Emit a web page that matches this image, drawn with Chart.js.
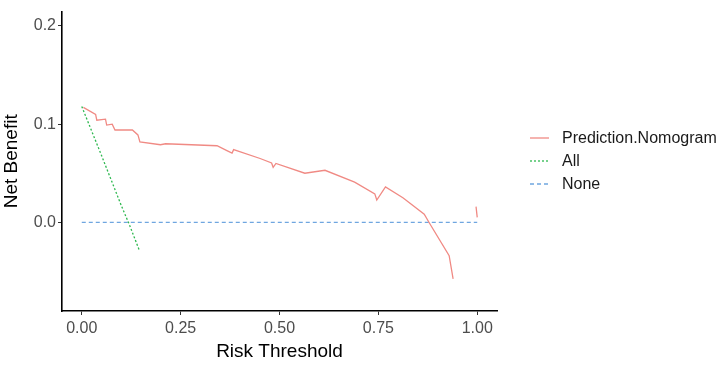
<!DOCTYPE html>
<html>
<head>
<meta charset="utf-8">
<script src="https://cdn.jsdelivr.net/npm/chart.js@4"></script>
<style>
    html, body { margin: 0; padding: 0; background: #fff; }
    #wrap { width: 720px; height: 365px; }
</style>
</head>
<body>
<div id="wrap"><canvas id="dcaChart" width="720" height="365"></canvas></div>
<script>
// Decision curve values
const nomoX = [0.004, 0.035, 0.038, 0.060, 0.063, 0.077, 0.084, 0.128, 0.142, 0.147, 0.199, 0.212, 0.342, 0.367, 0.380, 0.384, 0.451, 0.480, 0.484, 0.491, 0.564, 0.615, 0.690, 0.741, 0.746, 0.768, 0.812, 0.866, 0.879, 0.929, 0.939, 0.968, 0.997, 1.000];
const nomoY = [0.117, 0.110, 0.104, 0.105, 0.099, 0.100, 0.094, 0.094, 0.089, 0.082, 0.079, 0.080, 0.078, 0.073, 0.0705, 0.074, 0.065, 0.0605, 0.056, 0.060, 0.050, 0.053, 0.041, 0.029, 0.0227, 0.036, 0.025, 0.0083, -0.0007, -0.034, -0.0575, null, 0.016, 0.005];

const allX = [0.000, 0.050, 0.100, 0.120, 0.146];
const allY = [0.118, 0.068, 0.017, -0.002, -0.029];

const noneX = [0.000, 1.000];
const noneY = [0.000, 0.000];

const xTicks = [0, 0.25, 0.5, 0.75, 1];
const yTicks = [0, 0.1, 0.2];

const seriesNames = ['Prediction.Nomogram', 'All', 'None'];

function toPoints(xs, ys) {
    return xs.map((x, i) => ({ x: x, y: ys[i] }));
}

const FONT = "'Liberation Sans', Arial, sans-serif";

// simple ggplot-like legend drawn at the right side
const sideLegend = {
    id: 'sideLegend',
    afterDraw(chart) {
        const ctx = chart.ctx;
        const x0 = 530, x1 = 549, tx = 562;
        const rows = [138, 161, 184];
        ctx.save();
        chart.data.datasets.forEach((ds, i) => {
            const y = rows[i];
            ctx.strokeStyle = ds.borderColor;
            ctx.lineWidth = ds.borderWidth;
            ctx.setLineDash(ds.borderDash || []);
            ctx.beginPath();
            ctx.moveTo(x0, y);
            ctx.lineTo(x1, y);
            ctx.stroke();
            ctx.setLineDash([]);
            ctx.fillStyle = '#1a1a1a';
            ctx.font = '16px ' + FONT;
            ctx.textBaseline = 'middle';
            ctx.textAlign = 'left';
            ctx.fillText(ds.label, tx, y + 1);
        });
        ctx.restore();
    }
};

new Chart(document.getElementById('dcaChart'), {
    type: 'line',
    data: {
        datasets: [
            {
                label: seriesNames[0],
                data: toPoints(nomoX, nomoY),
                borderColor: '#F08A84',
                borderWidth: 1.3,
                pointRadius: 0,
                spanGaps: false,
                tension: 0
            },
            {
                label: seriesNames[1],
                data: toPoints(allX, allY),
                borderColor: '#2DB84F',
                borderWidth: 1.3,
                borderDash: [2, 2],
                pointRadius: 0,
                tension: 0
            },
            {
                label: seriesNames[2],
                data: toPoints(noneX, noneY),
                borderColor: '#6FA6E0',
                borderWidth: 1.3,
                borderDash: [4, 3],
                pointRadius: 0,
                tension: 0
            }
        ]
    },
    options: {
        responsive: false,
        animation: false,
        layout: {
            padding: { top: 7, right: 223, left: 0, bottom: 0 }
        },
        plugins: {
            legend: { display: false },
            tooltip: { enabled: false }
        },
        scales: {
            x: {
                type: 'linear',
                min: -0.05,
                max: 1.05,
                afterBuildTicks: s => { s.ticks = xTicks.map(v => ({ value: v })); },
                afterFit: s => { s.height = 54; },
                grid: {
                    drawOnChartArea: false,
                    drawTicks: true,
                    tickLength: 4,
                    color: '#333'
                },
                border: { display: true, color: '#000', width: 1.6 },
                ticks: {
                    color: '#4D4D4D',
                    padding: 4,
                    font: { size: 16, family: FONT },
                    callback: v => v.toFixed(2)
                },
                title: {
                    display: true,
                    text: 'Risk Threshold',
                    color: '#000',
                    padding: { top: 0, bottom: 2 },
                    font: { size: 19, family: FONT }
                }
            },
            y: {
                type: 'linear',
                min: -0.0903,
                max: 0.2146,
                afterBuildTicks: s => { s.ticks = yTicks.map(v => ({ value: v })); },
                afterFit: s => { s.width = 62; },
                grid: {
                    drawOnChartArea: false,
                    drawTicks: true,
                    tickLength: 4,
                    color: '#333'
                },
                border: { display: true, color: '#000', width: 1.6 },
                ticks: {
                    color: '#4D4D4D',
                    padding: 2,
                    font: { size: 16, family: FONT },
                    callback: v => v.toFixed(1)
                },
                title: {
                    display: true,
                    text: 'Net Benefit',
                    color: '#000',
                    padding: { top: 0, bottom: 4 },
                    font: { size: 19, family: FONT }
                }
            }
        }
    },
    plugins: [sideLegend]
});
</script>
</body>
</html>
